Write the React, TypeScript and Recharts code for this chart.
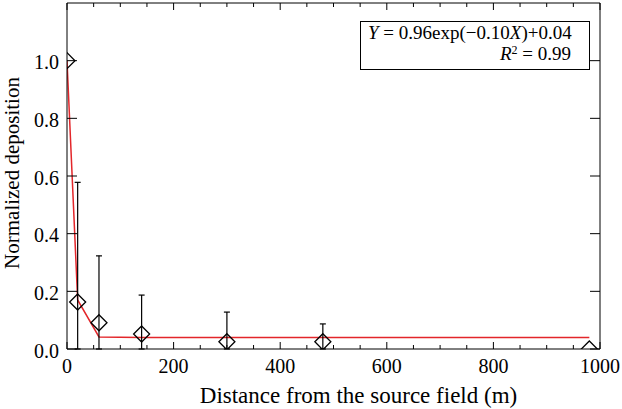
import React from "react";
import {
  ComposedChart,
  XAxis,
  YAxis,
  Line,
  Scatter,
  ErrorBar,
  Label,
  Customized,
} from "recharts";

// distance from source field (m) and measured normalized deposition
const distances = [0, 20, 60, 140, 300, 480, 980];
const deposition = [1.0, 0.163, 0.091, 0.052, 0.025, 0.025, 0.0];
const errUpper = [null, 0.415, 0.232, 0.135, 0.103, 0.062, null];
// fitted curve Y = 0.96exp(-0.10X)+0.04 read at the sample distances
const fitted = [1.0, 0.17, 0.042, 0.04, 0.04, 0.04, 0.04];

const xTicks = [
  0, 50, 100, 150, 200, 250, 300, 350, 400, 450, 500, 550, 600, 650, 700, 750,
  800, 850, 900, 950, 1000,
];
const xLabelTicks = [0, 200, 400, 600, 800, 1000];
const yTicks = [0, 0.2, 0.4, 0.6, 0.8, 1.0];

// lower whisker is cut at the x axis, like the original plot
const rows = distances.map((x, i) => ({
  x,
  y: deposition[i],
  err: errUpper[i] == null ? null : [Math.min(deposition[i], errUpper[i]), errUpper[i]],
  fit: fitted[i],
}));

const FONT = "'Liberation Serif', 'Times New Roman', serif";
const INK = "#000";

const isMajor = (v: number) => xLabelTicks.includes(v);

function BottomTick(props: any) {
  const { x, y, payload } = props;
  const major = isMajor(payload.value);
  return (
    <g>
      <line x1={x} y1={y} x2={x} y2={y - (major ? 7 : 4)} stroke={INK} />
      {major && (
        <text x={x} y={y + 24} textAnchor="middle" fontFamily={FONT} style={{ fontFamily: FONT }} fontSize={20} fill={INK}>
          {payload.value}
        </text>
      )}
    </g>
  );
}

function TopTick(props: any) {
  const { x, y, payload } = props;
  const major = isMajor(payload.value);
  return <line x1={x} y1={y} x2={x} y2={y + (major ? 7 : 4)} stroke={INK} />;
}

function LeftTick(props: any) {
  const { x, y, payload } = props;
  return (
    <g>
      <line x1={x} y1={y} x2={x + 10} y2={y} stroke={INK} />
      <text x={x - 8} y={y + 8.5} textAnchor="end" fontFamily={FONT} style={{ fontFamily: FONT }} fontSize={20} fill={INK}>
        {Number(payload.value).toFixed(1)}
      </text>
    </g>
  );
}

function RightTick(props: any) {
  const { x, y } = props;
  return <line x1={x} y1={y} x2={x - 10} y2={y} stroke={INK} />;
}

function Diamond(props: any) {
  const { cx, cy } = props;
  if (cx == null || cy == null) return null;
  const r = 8;
  return (
    <path
      d={`M${cx},${cy - r}L${cx + r},${cy}L${cx},${cy + r}L${cx - r},${cy}Z`}
      fill="none"
      stroke={INK}
      strokeWidth={1.3}
    />
  );
}

function EquationBox() {
  return (
    <g fontFamily={FONT} style={{ fontFamily: FONT }} fontSize={19} fill={INK}>
      <rect x={360.5} y={21.5} width={229} height={48} fill="#fff" stroke={INK} />
      <text x={368} y={39}>
        <tspan fontStyle="italic">Y</tspan> = 0.96exp(−0.10<tspan fontStyle="italic">X</tspan>)+0.04
      </text>
      <text x={571} y={60} textAnchor="end">
        <tspan fontStyle="italic">R</tspan>
        <tspan dy={-6} fontSize={12}>2</tspan>
        <tspan dy={6}> = 0.99</tspan>
      </text>
    </g>
  );
}

export default function App() {
  return (
    <div
      style={{
        position: "absolute",
        left: 0,
        top: 0,
        width: 622,
        height: 409,
        background: "#fff",
        fontFamily: FONT,
      }}
    >
      <ComposedChart
        width={622}
        height={409}
        data={rows}
        margin={{ top: 2, right: 21, bottom: 0, left: 0 }}
        style={{ fontFamily: FONT }}
      >
        <XAxis
          xAxisId="b"
          dataKey="x"
          type="number"
          domain={[0, 1000]}
          ticks={xTicks}
          interval={0}
          allowDataOverflow
          height={60}
          tickSize={0}
          tickMargin={0}
          tickLine={false}
          axisLine={{ stroke: INK }}
          tick={BottomTick}
        >
          <Label
            content={(p: any) => {
              const vb = p.viewBox;
              return (
                <text
                  x={vb.x + vb.width / 2 + 25}
                  y={vb.y + vb.height - 6}
                  textAnchor="middle"
                  fontFamily={FONT}
                  style={{ fontFamily: FONT }}
                  fontSize={23}
                  fill={INK}
                >
                  Distance from the source field (m)
                </text>
              );
            }}
          />
        </XAxis>
        <XAxis
          xAxisId="t"
          orientation="top"
          dataKey="x"
          type="number"
          domain={[0, 1000]}
          ticks={xTicks}
          interval={0}
          allowDataOverflow
          height={1}
          tickSize={0}
          tickMargin={0}
          tickLine={false}
          axisLine={{ stroke: INK }}
          tick={TopTick}
        />
        <YAxis
          yAxisId="l"
          type="number"
          domain={[0, 1.2]}
          ticks={yTicks}
          interval={0}
          allowDataOverflow
          width={67}
          tickSize={0}
          tickMargin={0}
          tickLine={false}
          axisLine={{ stroke: INK }}
          tick={LeftTick}
        >
          <Label
            content={(p: any) => {
              const vb = p.viewBox;
              const cx = vb.x + 19;
              const cy = vb.y + vb.height / 2 - 3;
              return (
                <text
                  x={cx}
                  y={cy}
                  transform={`rotate(-90 ${cx} ${cy})`}
                  textAnchor="middle"
                  fontFamily={FONT}
                  style={{ fontFamily: FONT }}
                  fontSize={21}
                  fill={INK}
                >
                  Normalized deposition
                </text>
              );
            }}
          />
        </YAxis>
        <YAxis
          yAxisId="r"
          orientation="right"
          type="number"
          domain={[0, 1.2]}
          ticks={yTicks}
          interval={0}
          allowDataOverflow
          width={1}
          tickSize={0}
          tickMargin={0}
          tickLine={false}
          axisLine={{ stroke: INK }}
          tick={RightTick}
        />
        <Line
          xAxisId="b"
          yAxisId="l"
          dataKey="fit"
          type="linear"
          stroke="#e3262a"
          strokeWidth={1.5}
          dot={false}
          isAnimationActive={false}
        />
        <Scatter
          xAxisId="b"
          yAxisId="l"
          dataKey="y"
          shape={Diamond}
          isAnimationActive={false}
        >
          <ErrorBar dataKey="err" direction="y" width={3} stroke={INK} strokeWidth={1.2} />
        </Scatter>
        <Customized component={EquationBox} />
      </ComposedChart>
    </div>
  );
}
